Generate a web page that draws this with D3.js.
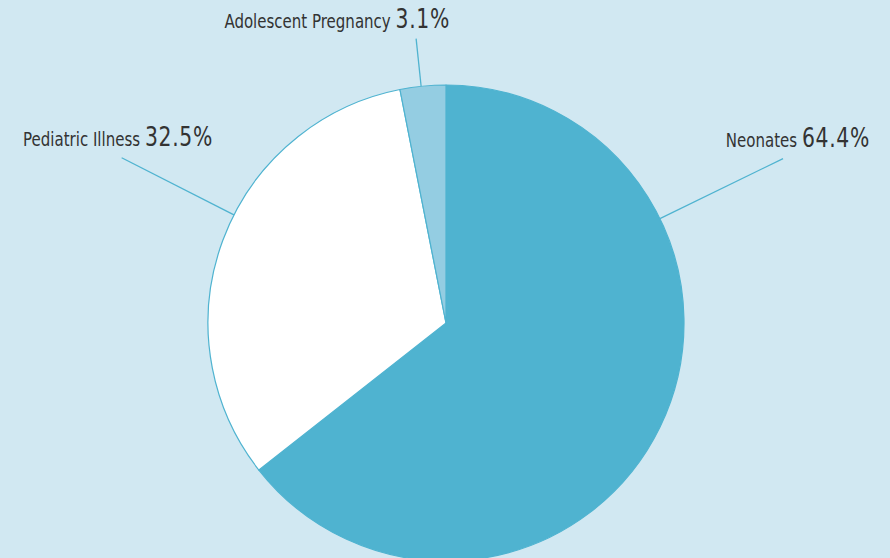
<!DOCTYPE html>
<html><head><meta charset="utf-8">
<script src="https://cdn.jsdelivr.net/npm/d3@7"></script>
<style>
html,body{margin:0;padding:0;background:#d1e8f2;overflow:hidden;}
svg{display:block;}
</style></head>
<body>
<svg id="chart" width="890" height="558"></svg>
<script>
const categories = ["Neonates", "Pediatric Illness", "Adolescent Pregnancy"];
const values = [64.4, 32.5, 3.1];
const valueLabels = ["64.4%", "32.5%", "3.1%"];
const colors = ["#4fb3d0", "#ffffff", "#94cde2"];

// label layout: leader angle (degrees from top, clockwise), leader outer radius, text anchor point
const leaderAngles = [64, 297, -6];
const leaderOuter = [375, 364, 286];
const textAnchorX = [870, 213, 450];
const textBaselineY = [147, 146, 28];

const W = 890, H = 558;
const cx = 446, cy = 323, R = 238;
const svg = d3.select("#chart");
svg.append("rect").attr("width", W).attr("height", H).attr("fill", "#d1e8f2");

const data = categories.map((c, i) => ({cat: c, value: values[i], label: valueLabels[i], color: colors[i], i}));
const pie = d3.pie().value(d => d.value).sort(null);
const arcs = pie(data);
const arc = d3.arc().innerRadius(0).outerRadius(R);

const g = svg.append("g").attr("transform", `translate(${cx},${cy})`);
g.selectAll("path").data(arcs).join("path")
  .attr("d", arc)
  .attr("fill", d => d.data.color)
  .attr("stroke", "#4fb3d0")
  .attr("stroke-width", 1.2)
  .attr("stroke-linejoin", "round");

const rad = a => a * Math.PI / 180;
g.selectAll("line.leader").data(data).join("line")
  .attr("class", "leader")
  .attr("x1", d => R * Math.sin(rad(leaderAngles[d.i])))
  .attr("y1", d => -R * Math.cos(rad(leaderAngles[d.i])))
  .attr("x2", d => leaderOuter[d.i] * Math.sin(rad(leaderAngles[d.i])))
  .attr("y2", d => -leaderOuter[d.i] * Math.cos(rad(leaderAngles[d.i])))
  .attr("stroke", "#4fb3d0")
  .attr("stroke-width", 1.3);

const font = "'DejaVu Sans Condensed', 'DejaVu Sans', sans-serif";
const t = svg.selectAll("text.lbl").data(data).join("text")
  .attr("class", "lbl")
  .attr("transform", d => `translate(${textAnchorX[d.i]},${textBaselineY[d.i]}) scale(0.87,1)`)
  .attr("text-anchor", "end")
  .attr("fill", "#333333")
  .style("font-family", font);
t.append("tspan").style("font-size", "19.2px").text(d => d.cat + " ");
t.append("tspan").style("font-size", "26px").style("letter-spacing", "0.8px").text(d => d.label);
</script>
</body></html>
